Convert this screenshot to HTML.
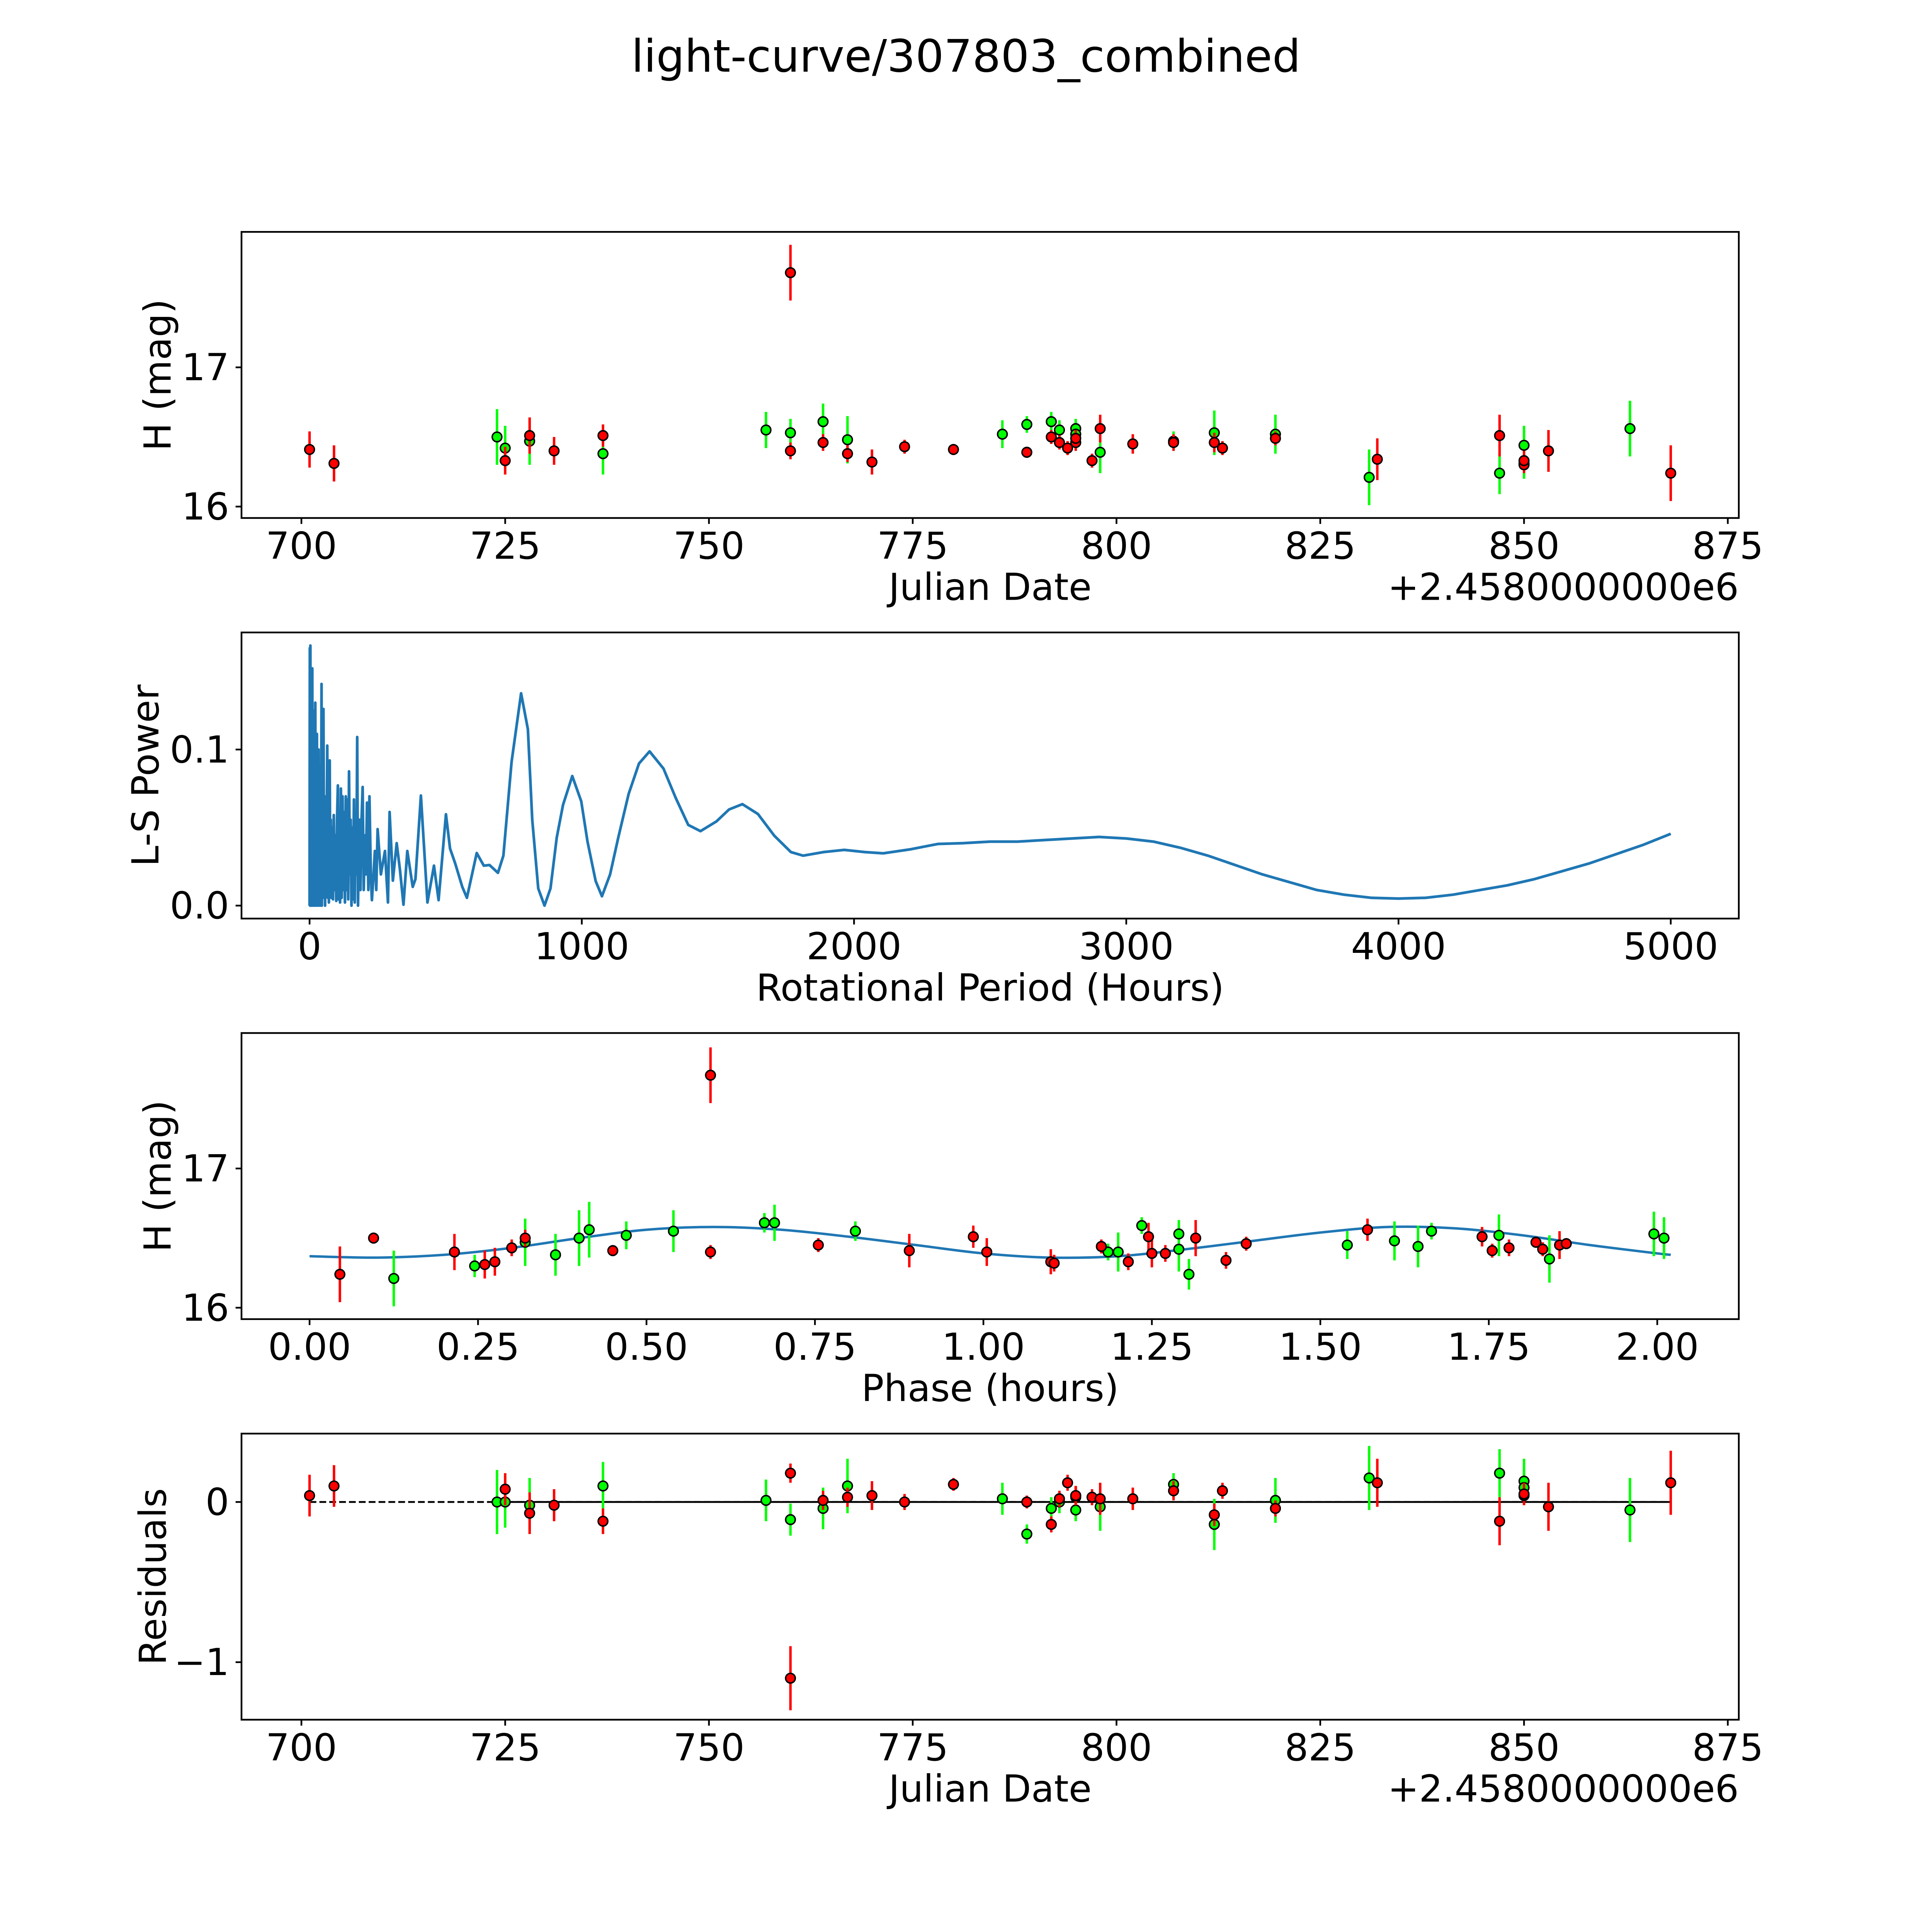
<!DOCTYPE html>
<html><head><meta charset="utf-8"><title>light-curve/307803_combined</title>
<style>
html,body{margin:0;padding:0;background:#fff;overflow:hidden;width:100vw;height:100vh;}
svg{display:block;width:100vw;height:100vh;}
text{font-family:"DejaVu Sans","Liberation Sans",sans-serif;fill:#000;}
</style></head>
<body>
<svg id="fig" xmlns="http://www.w3.org/2000/svg" viewBox="0 0 1568 1568" preserveAspectRatio="none">
<rect x="0" y="0" width="1568" height="1568" fill="#fff"/>
<text x="784" y="46" font-size="36.3" text-anchor="middle" dominant-baseline="central">light-curve/307803_combined</text>
</svg>
<script>
// ---------- Panel 1 data: light curve ----------
const lcRedDate = [701,704,725,728,731,737,760,760,764,767,770,774,780,789,792,793,794,795,795,797,798,802,807,812,813,819.5,832,847,850,850,853,868];
const lcRedMag  = [16.41,16.31,16.33,16.51,16.40,16.51,17.68,16.40,16.46,16.38,16.32,16.43,16.41,16.39,16.50,16.46,16.42,16.46,16.49,16.33,16.56,16.45,16.46,16.46,16.42,16.49,16.34,16.51,16.30,16.33,16.40,16.24];
const lcRedErr  = [0.13,0.13,0.10,0.13,0.10,0.08,0.20,0.06,0.06,0.06,0.09,0.05,0.04,0.04,0.05,0.05,0.05,0.06,0.06,0.05,0.10,0.07,0.06,0.07,0.05,0.05,0.15,0.15,0.06,0.07,0.15,0.20];
const lcGrnDate = [724,725,728,737,757,760,764,767,786,789,792,793,795,795,798,807,812,819.5,831,847,850,850,863];
const lcGrnMag  = [16.50,16.42,16.47,16.38,16.55,16.53,16.61,16.48,16.52,16.59,16.61,16.55,16.56,16.52,16.39,16.47,16.53,16.52,16.21,16.24,16.44,16.31,16.56];
const lcGrnErr  = [0.20,0.16,0.17,0.15,0.13,0.10,0.13,0.17,0.10,0.06,0.07,0.07,0.07,0.07,0.15,0.07,0.16,0.14,0.20,0.15,0.14,0.11,0.20];

// ---------- Panel 2 data: periodogram ----------
const lsPeriod = [0,1,2,3,4,5,6,7,8,10,11,12,14,15,17,18,20,21,23,24,26,27,29,30,32,33,35,36,38,40,42,44,45,47,49,51,53,55,57,59,61,63,65,67,69,71,74,76,78,80,83,86,89,92,95,98,101,104,106,109,112,115,118,121,124,127,130,133,136,139,142,145,148,151,154,157,160,163,166,169,172,175,178,181,184,187,190,195,199,203,207,211,216,220,225,229,235,240,245,250,262,277,288,294,306,320,332,345,359,379,389,409,433,457,474,501,516,535,561,578,614,640,661,692,712,742,777,802,818,840,863,885,908,931,965,998,1021,1051,1074,1104,1134,1172,1210,1249,1300,1345,1391,1436,1495,1541,1590,1647,1707,1768,1813,1888,1964,2039,2107,2205,2308,2400,2500,2600,2700,2800,2900,3000,3100,3200,3300,3400,3500,3600,3700,3800,3900,4000,4100,4200,4300,4400,4500,4600,4700,4800,4900,5000];
const lsPower  = [0,0.165,0,0.1666,0.01,0.13,0,0.12,0.02,0.152,0,0.11,0.005,0.125,0,0.1,0.01,0.13,0,0.09,0.01,0.11,0,0.085,0.005,0.1,0,0.08,0.01,0.09,0,0.142,0,0.06,0.005,0.126,0.01,0.07,0,0.06,0.01,0.05,0.1025,0.005,0.06,0.002,0.093,0.01,0.055,0.005,0.05,0.004,0.058,0.01,0.045,0.003,0.055,0.077,0.004,0.05,0.002,0.075,0.005,0.07,0.01,0.06,0.002,0.07,0.01,0.068,0.004,0.086,0.02,0.055,0,0.05,0.004,0.068,0.002,0.06,0.02,0.108,0,0.04,0.055,0.01,0.05,0.076,0.01,0.045,0.02,0.066,0.01,0.07,0.02,0.0035,0.02,0.035,0.01,0.049,0.02,0.035,0.002,0.06,0.016,0.04,0.023,0.0006,0.035,0.012,0.017,0.0705,0.002,0.0256,0.0035,0.0585,0.0366,0.027,0.012,0.005,0.0337,0.0256,0.026,0.021,0.032,0.092,0.136,0.113,0.055,0.011,0.0,0.011,0.0436,0.0645,0.083,0.0668,0.041,0.0157,0.006,0.02,0.0436,0.0715,0.091,0.0988,0.0878,0.069,0.0517,0.0477,0.054,0.0616,0.065,0.0587,0.0448,0.0343,0.032,0.0343,0.0357,0.0343,0.0335,0.036,0.0395,0.040,0.041,0.041,0.042,0.043,0.044,0.043,0.041,0.037,0.032,0.026,0.020,0.015,0.010,0.007,0.005,0.0045,0.005,0.007,0.010,0.013,0.017,0.022,0.027,0.033,0.039,0.046];

// ---------- Panel 3 data: phased ----------
const phRedPhase = [0.045,0.095,0.215,0.26,0.275,0.30,0.32,0.45,0.595,0.595,0.755,0.89,0.985,1.005,1.10,1.105,1.175,1.215,1.245,1.25,1.27,1.315,1.36,1.39,1.57,1.74,1.755,1.78,1.82,1.83,1.855,1.865];
const phRedMag   = [16.24,16.50,16.40,16.31,16.33,16.43,16.50,16.41,17.67,16.40,16.45,16.41,16.51,16.40,16.33,16.32,16.44,16.33,16.51,16.39,16.39,16.50,16.34,16.46,16.56,16.51,16.41,16.43,16.47,16.42,16.45,16.46];
const phRedErr   = [0.20,0.04,0.13,0.10,0.10,0.06,0.06,0.04,0.20,0.05,0.05,0.12,0.08,0.10,0.09,0.06,0.05,0.06,0.10,0.10,0.06,0.13,0.06,0.05,0.08,0.07,0.05,0.06,0.04,0.05,0.10,0.04];
const phGrnPhase = [0.125,0.245,0.32,0.365,0.40,0.415,0.47,0.54,0.675,0.69,0.81,1.185,1.20,1.235,1.29,1.29,1.305,1.54,1.61,1.645,1.665,1.765,1.84,1.995,2.01];
const phGrnMag   = [16.21,16.30,16.47,16.38,16.50,16.56,16.52,16.55,16.61,16.61,16.55,16.40,16.40,16.59,16.53,16.42,16.24,16.45,16.48,16.44,16.55,16.52,16.35,16.53,16.50];
const phGrnErr   = [0.20,0.08,0.17,0.15,0.20,0.20,0.10,0.15,0.07,0.13,0.07,0.06,0.14,0.06,0.10,0.16,0.11,0.10,0.14,0.15,0.06,0.15,0.17,0.16,0.15];
const modelPhase = [0,0.1,0.2,0.3,0.4,0.5,0.6,0.7,0.8,0.9,1.0,1.1,1.2,1.3,1.4,1.5,1.6,1.7,1.8,1.9,2.0,2.02];
const modelMag   = [16.37,16.36,16.38,16.43,16.50,16.56,16.58,16.56,16.51,16.45,16.39,16.36,16.37,16.42,16.48,16.54,16.58,16.57,16.52,16.45,16.39,16.38];

// ---------- Panel 4 data: residuals ----------
const resRedVal = [0.04,0.10,0.08,-0.07,-0.02,-0.12,-1.10,0.18,0.01,0.03,0.04,0.00,0.11,0.00,-0.14,0.02,0.12,0.04,0.04,0.03,0.02,0.02,0.07,-0.08,0.07,-0.04,0.12,-0.12,0.04,0.05,-0.03,0.12];
const resGrnVal = [0.00,0.00,-0.02,0.10,0.01,-0.11,-0.04,0.10,0.02,-0.20,-0.04,0.00,-0.05,0.03,-0.03,0.11,-0.14,0.01,0.15,0.18,0.13,0.09,-0.05];

// tick labels
const jdTicks = [700,725,750,775,800,825,850,875];
const magTicks = [16,17];
const perTicks = [0,1000,2000,3000,4000,5000];
const powTicks = [0.0,0.1];
const powTickLabels = ["0.0","0.1"];
const phaseTicks = [0,0.25,0.5,0.75,1.0,1.25,1.5,1.75,2.0];
const phaseTickLabels = ["0.00","0.25","0.50","0.75","1.00","1.25","1.50","1.75","2.00"];
const resTicks = [0,-1];
const resTickLabels = ["0","\u22121"];

const NS = "http://www.w3.org/2000/svg";
const fig = document.getElementById('fig');
const FS = 30.3;
function mk(tag, attrs, parent){
  const e = document.createElementNS(NS, tag);
  for (const k in attrs) e.setAttribute(k, attrs[k]);
  (parent||fig).appendChild(e);
  return e;
}
function makeAxes(top, xmin, xmax, ymin, ymax, name){
  const ax = {x0:196, x1:1411.2, y0:top, y1:top+232.2, xmin, xmax, ymin, ymax};
  ax.sx = v => ax.x0 + (v - xmin) / (xmax - xmin) * (ax.x1 - ax.x0);
  ax.sy = v => ax.y1 - (v - ymin) / (ymax - ymin) * (ax.y1 - ax.y0);
  const g = mk('g', {});
  
  
  ax.g = g;
  const clipId = name + '-clip';
  const cp = mk('clipPath', {id: clipId}, g);
  mk('rect', {x: ax.x0, y: ax.y0, width: ax.x1-ax.x0, height: ax.y1-ax.y0}, cp);
  const plot = mk('g', {'clip-path': 'url(#' + clipId + ')'}, g);
  
  
  ax.plot = plot;
  return ax;
}
function frame(ax){
  const r = mk('rect', {x: ax.x0, y: ax.y0, width: ax.x1-ax.x0, height: ax.y1-ax.y0, fill:'none', stroke:'#000', 'stroke-width':1.4}, ax.g);
  
  
}
function xTicks(ax, vals, labels){
  vals.forEach((v,i) => {
    const x = ax.sx(v);
    const t = mk('line', {x1:x, x2:x, y1:ax.y1, y2:ax.y1+4.8, stroke:'#000', 'stroke-width':1.4}, ax.g);
    
    
    const lb = mk('text', {x:x, y:ax.y1+22.5, 'font-size':FS, 'text-anchor':'middle', 'dominant-baseline':'central'}, ax.g);
    
    
    lb.textContent = labels ? labels[i] : String(v);
  });
}
function yTicks(ax, vals, labels){
  vals.forEach((v,i) => {
    const y = ax.sy(v);
    const t = mk('line', {x1:ax.x0-4.8, x2:ax.x0, y1:y, y2:y, stroke:'#000', 'stroke-width':1.4}, ax.g);
    
    
    const lb = mk('text', {x:ax.x0-10, y:y, 'font-size':FS, 'text-anchor':'end', 'dominant-baseline':'central'}, ax.g);
    
    
    lb.textContent = labels ? labels[i] : String(v);
  });
}
function xLabel(ax, txt, name){
  const t = mk('text', {x:(ax.x0+ax.x1)/2, y:ax.y1+56, 'font-size':FS, 'text-anchor':'middle', 'dominant-baseline':'central'}, ax.g);
  
  
  t.textContent = txt;
}
function yLabel(ax, txt, cx, name){
  const cy = (ax.y0+ax.y1)/2;
  const t = mk('text', {x:cx, y:cy, 'font-size':FS, 'text-anchor':'middle', 'dominant-baseline':'central', transform:'rotate(-90 '+cx+' '+cy+')'}, ax.g);
  
  
  t.textContent = txt;
}
function offsetText(ax, name){
  const t = mk('text', {x:ax.x1, y:ax.y1+56, 'font-size':FS, 'text-anchor':'end', 'dominant-baseline':'central'}, ax.g);
  
  
  t.textContent = '+2.4580000000e6';
}
function errPoints(ax, xs, ys, es, color, name){
  xs.forEach((xv,i) => {
    const x = ax.sx(xv);
    const eb = mk('line', {x1:x, x2:x, y1:ax.sy(ys[i]-es[i]), y2:ax.sy(ys[i]+es[i]), stroke:color, 'stroke-width':2}, ax.plot);
    
    
  });
  xs.forEach((xv,i) => {
    const c = mk('circle', {cx:ax.sx(xv), cy:ax.sy(ys[i]), r:3.9, fill:color, stroke:'#000', 'stroke-width':1.2}, ax.plot);
    
    
  });
}
function smoothPath(pts){
  let d = 'M' + pts[0][0] + ' ' + pts[0][1];
  for (let i=0;i<pts.length-1;i++){
    const p0 = pts[Math.max(i-1,0)], p1 = pts[i], p2 = pts[i+1], p3 = pts[Math.min(i+2,pts.length-1)];
    const c1x = p1[0] + (p2[0]-p0[0])/6, c1y = p1[1] + (p2[1]-p0[1])/6;
    const c2x = p2[0] - (p3[0]-p1[0])/6, c2y = p2[1] - (p3[1]-p1[1])/6;
    d += ' C' + c1x + ' ' + c1y + ' ' + c2x + ' ' + c2y + ' ' + p2[0] + ' ' + p2[1];
  }
  return d;
}

// ---- Axes 1 ----
const ax1 = makeAxes(188.2, 692.65, 876.35, 15.918, 17.973, 'light-curve-panel');
errPoints(ax1, lcGrnDate, lcGrnMag, lcGrnErr, '#00ff00', 'green-band');
errPoints(ax1, lcRedDate, lcRedMag, lcRedErr, '#ff0000', 'red-band');
frame(ax1); xTicks(ax1, jdTicks); yTicks(ax1, magTicks);
xLabel(ax1, 'Julian Date', 'x-axis-title-julian-date');
offsetText(ax1, 'x-axis-offset-text');
yLabel(ax1, 'H (mag)', 128, 'y-axis-title-magnitude');

// ---- Axes 2 ----
const ax2 = makeAxes(513.3, -250, 5250, -0.0083, 0.175, 'periodogram-panel');
const lsPts = lsPeriod.map((p,i) => ax2.sx(p).toFixed(2) + ',' + ax2.sy(lsPower[i]).toFixed(2)).join(' ');
const lsLine = mk('polyline', {points: lsPts, fill:'none', stroke:'#1f77b4', 'stroke-width':2.2, 'stroke-linejoin':'round'}, ax2.plot);


frame(ax2); xTicks(ax2, perTicks); yTicks(ax2, powTicks, powTickLabels);
xLabel(ax2, 'Rotational Period (Hours)', 'x-axis-title-period');
yLabel(ax2, 'L-S Power', 118, 'y-axis-title-power');

// ---- Axes 3 ----
const ax3 = makeAxes(838.4, -0.101, 2.121, 15.918, 17.973, 'phased-panel');
const mPts = modelPhase.map((p,i) => [ax3.sx(p), ax3.sy(modelMag[i])]);
const mLine = mk('path', {d: smoothPath(mPts), fill:'none', stroke:'#1f77b4', 'stroke-width':2}, ax3.plot);


errPoints(ax3, phGrnPhase, phGrnMag, phGrnErr, '#00ff00', 'green-band-phased');
errPoints(ax3, phRedPhase, phRedMag, phRedErr, '#ff0000', 'red-band-phased');
frame(ax3); xTicks(ax3, phaseTicks, phaseTickLabels); yTicks(ax3, magTicks);
xLabel(ax3, 'Phase (hours)', 'x-axis-title-phase');
yLabel(ax3, 'H (mag)', 128, 'y-axis-title-magnitude-phased');

// ---- Axes 4 ----
const ax4 = makeAxes(1163.5, 692.65, 876.35, -1.359, 0.427, 'residuals-panel');
const z1 = mk('line', {x1:ax4.sx(701), x2:ax4.sx(868), y1:ax4.sy(0), y2:ax4.sy(0), stroke:'#000', 'stroke-width':1.5, 'stroke-dasharray':'5.5,2.5'}, ax4.plot);


const z2 = mk('line', {x1:ax4.sx(724), x2:ax4.sx(868), y1:ax4.sy(0), y2:ax4.sy(0), stroke:'#000', 'stroke-width':1.5}, ax4.plot);


errPoints(ax4, lcGrnDate, resGrnVal, lcGrnErr, '#00ff00', 'green-residual');
errPoints(ax4, lcRedDate, resRedVal, lcRedErr, '#ff0000', 'red-residual');
frame(ax4); xTicks(ax4, jdTicks); yTicks(ax4, resTicks, resTickLabels);
xLabel(ax4, 'Julian Date', 'x-axis-title-julian-date-residuals');
offsetText(ax4, 'x-axis-offset-text-residuals');
yLabel(ax4, 'Residuals', 124, 'y-axis-title-residuals');
</script>
</body></html>
